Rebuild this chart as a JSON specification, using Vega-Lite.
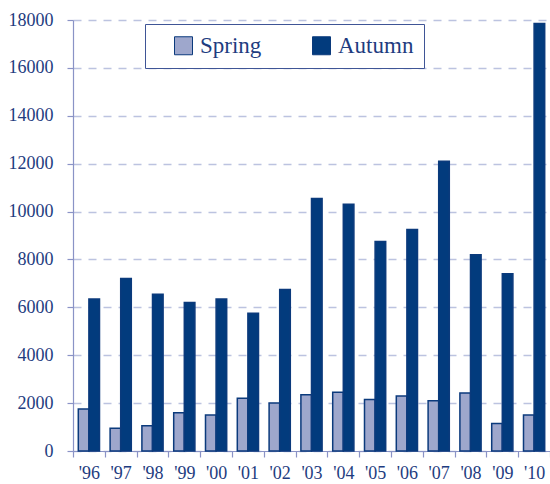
{
  "$schema": "https://vega.github.io/schema/vega-lite/v6.json",
  "autosize": {"type": "none"},
  "padding": {"left": 73, "top": 20, "right": 0, "bottom": 33},
  "width": 477,
  "height": 431,
  "background": "white",
  "config": {
    "view": {"stroke": null},
    "font": "Times New Roman",
    "axis": {"labelFont": "Times New Roman", "labelColor": "#1e3c80", "domainColor": "#8a93c6", "tickColor": "#8a93c6", "domainWidth": 1.2, "tickWidth": 1.2}
  },
  "data": {
    "values": [
      {"year": "'96", "season": "Spring", "value": 1750},
      {"year": "'96", "season": "Autumn", "value": 6350},
      {"year": "'97", "season": "Spring", "value": 950},
      {"year": "'97", "season": "Autumn", "value": 7200},
      {"year": "'98", "season": "Spring", "value": 1050},
      {"year": "'98", "season": "Autumn", "value": 6550},
      {"year": "'99", "season": "Spring", "value": 1600},
      {"year": "'99", "season": "Autumn", "value": 6200},
      {"year": "'00", "season": "Spring", "value": 1500},
      {"year": "'00", "season": "Autumn", "value": 6350},
      {"year": "'01", "season": "Spring", "value": 2200},
      {"year": "'01", "season": "Autumn", "value": 5750},
      {"year": "'02", "season": "Spring", "value": 2000},
      {"year": "'02", "season": "Autumn", "value": 6750},
      {"year": "'03", "season": "Spring", "value": 2350},
      {"year": "'03", "season": "Autumn", "value": 10550},
      {"year": "'04", "season": "Spring", "value": 2450},
      {"year": "'04", "season": "Autumn", "value": 10300},
      {"year": "'05", "season": "Spring", "value": 2150},
      {"year": "'05", "season": "Autumn", "value": 8750},
      {"year": "'06", "season": "Spring", "value": 2300},
      {"year": "'06", "season": "Autumn", "value": 9250},
      {"year": "'07", "season": "Spring", "value": 2100},
      {"year": "'07", "season": "Autumn", "value": 12100},
      {"year": "'08", "season": "Spring", "value": 2420},
      {"year": "'08", "season": "Autumn", "value": 8200},
      {"year": "'09", "season": "Spring", "value": 1150},
      {"year": "'09", "season": "Autumn", "value": 7400},
      {"year": "'10", "season": "Spring", "value": 1500},
      {"year": "'10", "season": "Autumn", "value": 17850}
    ]
  },
  "mark": {"type": "bar", "stroke": "#0b3a7c", "strokeWidth": 1.5},
  "encoding": {
    "x": {
      "field": "year",
      "type": "nominal",
      "sort": null,
      "scale": {"paddingInner": 0, "paddingOuter": 0},
      "axis": {"title": null, "labelAngle": 0, "labelFontSize": 18, "labelPadding": 7, "tickSize": 6, "tickBand": "extent", "grid": false}
    },
    "xOffset": {
      "field": "season",
      "type": "nominal",
      "sort": ["Spring", "Autumn"],
      "scale": {"paddingInner": 0, "paddingOuter": 0.5}
    },
    "y": {
      "field": "value",
      "type": "quantitative",
      "scale": {"domain": [0, 18000], "nice": false},
      "axis": {"title": null, "values": [0, 2000, 4000, 6000, 8000, 10000, 12000, 14000, 16000, 18000], "format": "d", "labelFontSize": 18, "labelPadding": 14, "tickSize": 6, "grid": true, "gridColor": "#bcc3e0", "gridDash": [8, 7], "gridWidth": 1.5}
    },
    "fill": {
      "field": "season",
      "type": "nominal",
      "scale": {"domain": ["Spring", "Autumn"], "range": ["#9ea7cc", "#023b7d"]},
      "legend": {
        "title": null,
        "orient": "none",
        "legendX": 72,
        "legendY": 4,
        "direction": "horizontal",
        "fillColor": "white",
        "strokeColor": "#3f5596",
        "padding": 10,
        "symbolType": "square",
        "symbolSize": 324,
        "symbolStrokeColor": "#0b3a7c",
        "symbolStrokeWidth": 1,
        "symbolOffset": 17,
        "labelOffset": 5,
        "labelFont": "Times New Roman",
        "labelFontSize": 23,
        "labelColor": "#1e3c80",
        "columnPadding": 31,
        "labelExpr": "datum.label == 'Autumn' ? 'Autumn\u00a0\u00a0\u00a0\u00a0\u00a0' : datum.label"
      }
    }
  }
}
